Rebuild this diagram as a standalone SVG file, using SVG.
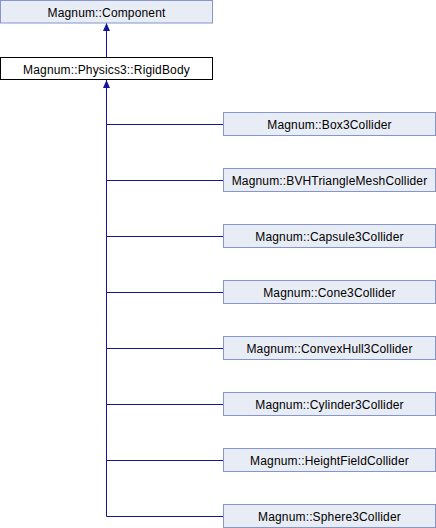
<svg xmlns="http://www.w3.org/2000/svg" width="436" height="528" viewBox="0 0 436 528">
<defs>
<style>
.n rect{fill:#e8ecf5;stroke:#8496cb;stroke-width:1}
.n.cur rect{fill:#ffffff;stroke:#000000}
.n text{font-family:"Liberation Sans",Arial,sans-serif;font-size:12px;letter-spacing:0.15px;fill:#000000;text-anchor:middle}
.e{stroke:#14149b;stroke-width:1;fill:none}
</style>
<marker id="ah" viewBox="0 0 8 8" refX="8" refY="4" markerWidth="8" markerHeight="8" markerUnits="userSpaceOnUse" orient="auto">
<path d="M0,0.5 L8,4 L0,7.5 Z" fill="#14149b"/>
</marker>
</defs>
<rect width="436" height="528" fill="#ffffff"/>
<g id="connectors">
<path class="e" d="M106.5,57 L106.5,23" marker-end="url(#ah)"/>
<path class="e" d="M106.5,516.5 L106.5,80" marker-end="url(#ah)"/>
<path class="e" d="M106.5,124.5 H223"/>
<path class="e" d="M106.5,180.5 H223"/>
<path class="e" d="M106.5,236.5 H223"/>
<path class="e" d="M106.5,292.5 H223"/>
<path class="e" d="M106.5,348.5 H223"/>
<path class="e" d="M106.5,404.5 H223"/>
<path class="e" d="M106.5,460.5 H223"/>
<path class="e" d="M106.5,516.5 H223"/>
</g>
<g id="component" class="n"><rect x="0.5" y="0.5" width="212" height="22.5"/><text x="106.5" y="16.5">Magnum::Component</text></g>
<g id="rigidbody" class="n cur"><rect x="0.5" y="57.5" width="212" height="22"/><text x="106.5" y="73.5">Magnum::Physics3::RigidBody</text></g>
<g id="box3" class="n"><rect x="223.5" y="112.5" width="212" height="23"/><text x="329.5" y="129">Magnum::Box3Collider</text></g>
<g id="bvh" class="n"><rect x="223.5" y="168.5" width="212" height="23"/><text x="329.5" y="185">Magnum::BVHTriangleMeshCollider</text></g>
<g id="capsule3" class="n"><rect x="223.5" y="224.5" width="212" height="23"/><text x="329.5" y="241">Magnum::Capsule3Collider</text></g>
<g id="cone3" class="n"><rect x="223.5" y="280.5" width="212" height="23"/><text x="329.5" y="297">Magnum::Cone3Collider</text></g>
<g id="convexhull3" class="n"><rect x="223.5" y="336.5" width="212" height="23"/><text x="329.5" y="353">Magnum::ConvexHull3Collider</text></g>
<g id="cylinder3" class="n"><rect x="223.5" y="392.5" width="212" height="23"/><text x="329.5" y="409">Magnum::Cylinder3Collider</text></g>
<g id="heightfield" class="n"><rect x="223.5" y="448.5" width="212" height="23"/><text x="329.5" y="465">Magnum::HeightFieldCollider</text></g>
<g id="sphere3" class="n"><rect x="223.5" y="504.5" width="212" height="23"/><text x="329.5" y="521">Magnum::Sphere3Collider</text></g>
</svg>
